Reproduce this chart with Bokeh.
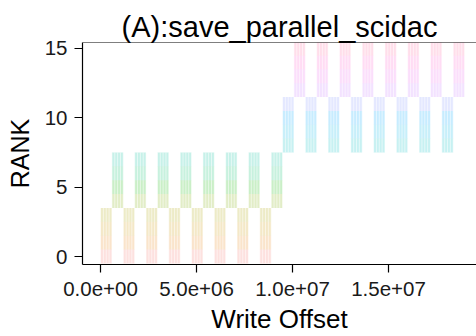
import math
from bokeh.plotting import figure
from bokeh.models import ColumnDataSource, FixedTicker, Span, Title
from bokeh.embed import file_html
from bokeh.resources import INLINE

# ---- data ----
ranks = list(range(16))
# block start offsets of the writes, per group of four ranks
offsets_ranks_0_3 = [0, 1185000, 2370000, 3555000, 4740000, 5925000, 7110000, 8295000]
offsets_ranks_4_7 = [592500, 1777500, 2962500, 4147500, 5332500, 6517500, 7702500, 8887500]
offsets_ranks_8_11 = [9480000, 10665000, 11850000, 13035000, 14220000, 15405000, 16590000, 17775000]
offsets_ranks_12_15 = [10072500, 11257500, 12442500, 13627500, 14812500, 15997500, 17182500, 18367500]
block_size = 592500
writes_per_block = 4
x_ticks = [0, 5000000, 10000000, 15000000]
x_tick_labels = ["0.0e+00", "5.0e+06", "1.0e+07", "1.5e+07"]
y_ticks = [0, 5, 10, 15]

group_offsets = [offsets_ranks_0_3, offsets_ranks_4_7, offsets_ranks_8_11, offsets_ranks_12_15]


def hcl_hex(h, c=100.0, l=65.0):
    # ggplot2 hue palette colour (polar LUV -> sRGB)
    Xn, Yn, Zn = 95.047, 100.0, 108.883
    hr = math.radians(h)
    u, v = c * math.cos(hr), c * math.sin(hr)
    Y = Yn * ((l + 16) / 116) ** 3
    den = Xn + 15 * Yn + 3 * Zn
    un, vn = 4 * Xn / den, 9 * Yn / den
    up = u / (13 * l) + un
    vp = v / (13 * l) + vn
    X = Y * 9 * up / (4 * vp)
    Z = Y * (12 - 3 * up - 20 * vp) / (4 * vp)
    X, Y, Z = X / 100, Y / 100, Z / 100
    r = 3.2404542 * X - 1.5371385 * Y - 0.4985314 * Z
    g = -0.9692660 * X + 1.8760108 * Y + 0.0415560 * Z
    b = 0.0556434 * X - 0.2040259 * Y + 1.0572252 * Z

    def gam(t):
        t = min(max(t, 0.0), 1.0)
        return 12.92 * t if t <= 0.0031308 else 1.055 * t ** (1 / 2.4) - 0.055

    return "#%02x%02x%02x" % tuple(int(round(gam(t) * 255)) for t in (r, g, b))


n = len(ranks)
palette = [hcl_hex(15 + 360 * i / n) for i in range(n)]

left, right, bottom, top, color = [], [], [], [], []
sx, sy0, sy1 = [], [], []
sub = block_size / writes_per_block
for rk in ranks:
    for start in group_offsets[rk // 4]:
        left.append(start)
        right.append(start + block_size)
        bottom.append(rk - 0.5)
        top.append(rk + 0.5)
        color.append(palette[rk])
        for k in range(writes_per_block + 1):
            sx.append(start + k * sub)
            sy0.append(rk - 0.5)
            sy1.append(rk + 0.5)

src = ColumnDataSource(dict(left=left, right=right, bottom=bottom, top=top, color=color))
seg = ColumnDataSource(dict(x=sx, y0=sy0, y1=sy1))

FONT = "Liberation Sans"
X0, X1 = -940000, 19580000
Y0, Y1 = -0.575, 15.43

p = figure(width=476, height=336, output_backend="svg", toolbar_location=None,
           x_range=(X0, X1), y_range=(Y0, Y1),
           min_border_left=82, min_border_right=0, min_border_top=42, min_border_bottom=71)
p.title = Title(text="(A):save_parallel_scidac", align="center", text_font=FONT,
                text_font_size="29px", text_font_style="normal", text_color="black",
                standoff=0)

p.quad(left="left", right="right", bottom="bottom", top="top", source=src,
       fill_color="color", fill_alpha=0.22, line_color=None)
p.segment(x0="x", x1="x", y0="y0", y1="y1", source=seg,
          line_color="white", line_alpha=0.55, line_width=1)

p.xgrid.visible = False
p.ygrid.visible = False
p.outline_line_color = None
p.background_fill_color = "white"
p.border_fill_color = "white"

top_line = Span(location=Y1, dimension="width", line_color="black", line_width=1.2)
p.add_layout(top_line)

for ax in (p.xaxis[0], p.yaxis[0]):
    ax.axis_line_color = "black"
    ax.axis_line_width = 1.2
    ax.major_tick_line_color = "black"
    ax.major_tick_line_width = 1.2
    ax.major_tick_out = 8
    ax.major_tick_in = 0
    ax.minor_tick_line_color = None
    ax.major_label_text_font = FONT
    ax.major_label_text_font_size = "20.5px"
    ax.major_label_text_color = "#1a1a1a"
    ax.axis_label_text_font = FONT
    ax.axis_label_text_font_style = "normal"
    ax.axis_label_text_color = "black"

p.xaxis[0].ticker = FixedTicker(ticks=x_ticks)
p.xaxis[0].major_label_overrides = {t: s for t, s in zip(x_ticks, x_tick_labels)}
p.xaxis[0].axis_label = "Write Offset"
p.xaxis[0].axis_label_text_font_size = "26px"
p.xaxis[0].major_label_standoff = 9
p.xaxis[0].axis_label_standoff = 5

p.yaxis[0].ticker = FixedTicker(ticks=y_ticks)
p.yaxis[0].axis_label = "RANK"
p.yaxis[0].axis_label_text_font_size = "25px"
p.yaxis[0].major_label_standoff = 7
p.yaxis[0].axis_label_standoff = 8

open("out.html", "w").write(file_html(p, INLINE))
